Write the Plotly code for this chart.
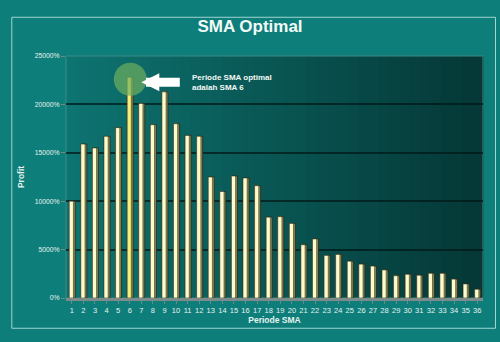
import plotly.graph_objects as go

periods = list(range(1, 37))
profit = [10000, 15900, 15500, 16700, 17600, 22800, 20100, 17900, 21300, 18000,
          16800, 16700, 12500, 11000, 12600, 12400, 11600, 8350, 8400, 7700,
          5500, 6100, 4400, 4500, 3800, 3500, 3300, 2900, 2300, 2450,
          2350, 2550, 2550, 1950, 1450, 900]
y_ticks = [0, 5000, 10000, 15000, 20000, 25000]
y_tick_text = [f"{v}%" for v in y_ticks]
optimal = 6

bar_colors = ["#f6ee7a" if p == optimal else "#fdfbcd" for p in periods]

fig = go.Figure()

# highlight circle around optimal bar
fig.add_trace(go.Scatter(
    x=[optimal + 0.05], y=[profit[optimal - 1] - 200], mode="markers",
    marker=dict(size=33, color="rgba(110,175,95,0.7)", line=dict(width=0)),
    hoverinfo="skip", showlegend=False))

# 3D side shading bars
fig.add_trace(go.Bar(
    x=periods, y=profit, width=0.5, offset=-0.2,
    marker=dict(color="#8c8a55", line=dict(color="#2a2a18", width=0.8)),
    showlegend=False, hoverinfo="skip"))
fig.add_trace(go.Bar(
    x=periods, y=profit, width=0.36, offset=-0.22,
    marker=dict(color=bar_colors, line=dict(color="#3a3a22", width=0.6)),
    showlegend=False))

# gradient background strips for plot area
n = 40
c0 = (14, 116, 113)
c1 = (5, 56, 54)
shapes = []
for i in range(n):
    t = i / (n - 1)
    c = tuple(int(c0[k] + (c1[k] - c0[k]) * t) for k in range(3))
    shapes.append(dict(type="rect", xref="x domain", yref="y domain",
                       x0=i / n, x1=(i + 1) / n + 0.002, y0=0, y1=1,
                       fillcolor=f"rgb{c}", line=dict(width=0), layer="below"))
# outer frame border
shapes.append(dict(type="rect", xref="paper", yref="paper", x0=-0.13, x1=1.03,
                   y0=-0.125, y1=1.16, line=dict(color="#9fd6d2", width=1),
                   fillcolor="rgba(0,0,0,0)", layer="below"))
# plot area border
shapes.append(dict(type="rect", xref="x domain", yref="y domain", x0=0, x1=1,
                   y0=0, y1=1, line=dict(color="#3d8a86", width=1),
                   fillcolor="rgba(0,0,0,0)", layer="below"))

fig.add_annotation(
    x=optimal + 1, y=22300, xref="x", yref="y", ax=40, ay=0,
    showarrow=True, arrowhead=2, arrowsize=0.4, arrowwidth=9,
    arrowcolor="white", text="")
fig.add_annotation(
    x=optimal + 5.2, y=22300, xref="x", yref="y", xanchor="left", yanchor="middle",
    showarrow=False, align="left",
    text="<b>Periode SMA optimal<br>adalah SMA 6</b>",
    font=dict(family="Liberation Sans, Arial", size=8, color="#f2f8f4"))

fig.update_layout(
    width=500, height=342,
    margin=dict(l=66, r=17, t=56, b=44),
    paper_bgcolor="#0e7e7b",
    plot_bgcolor="#09524f",
    barmode="overlay",
    bargap=0.5,
    shapes=shapes,
    showlegend=False,
    title=dict(text="<b>SMA Optimal</b>", x=0.5, xanchor="center", y=0.925,
               yanchor="middle",
               font=dict(family="Liberation Sans, Arial", size=17, color="#f2faf8")),
    font=dict(family="Liberation Sans, Arial", color="#e6f2ee"),
)
fig.update_xaxes(
    range=[0.5, 36.5], tickmode="array", tickvals=periods,
    ticktext=[str(p) for p in periods],
    tickfont=dict(size=7.5, color="#e6f2ee"),
    showgrid=False, zeroline=False,
    showline=True, linecolor="#7c8c8a", linewidth=3,
    ticks="outside", ticklen=3, tickcolor="#6a8a88",
    title=dict(text="<b>Periode SMA</b>", font=dict(size=8.5, color="#e6f2ee"), standoff=4),
)
fig.update_yaxes(
    range=[0, 25000], tickmode="array", tickvals=y_ticks, ticktext=y_tick_text,
    tickfont=dict(size=6.8, color="#e6f2ee"),
    showgrid=True, gridcolor="rgba(0,25,25,0.75)", gridwidth=1.5,
    zeroline=False, showline=False,
    ticks="outside", ticklen=4, tickcolor="#6a8a88",
    title=dict(text="<b>Profit</b>", font=dict(size=8.5, color="#e6f2ee"), standoff=8),
)

fig.write_html("out.html")
